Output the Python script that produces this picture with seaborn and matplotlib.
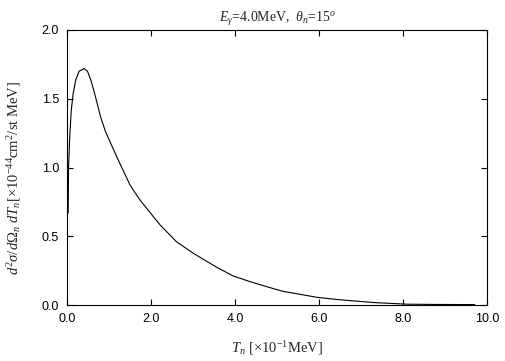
import matplotlib
matplotlib.use("Agg")
import matplotlib.pyplot as plt
import seaborn as sns
import pandas as pd

# Data
t_n = [0.0, 0.02, 0.03, 0.057, 0.095, 0.14, 0.20, 0.28, 0.40, 0.48, 0.56, 0.64,
       0.71, 0.79, 0.91, 1.02, 1.10, 1.25, 1.49, 1.57, 1.73, 2.05, 2.21, 2.52,
       2.60, 3.00, 3.40, 3.56, 3.95, 4.35, 4.75, 5.14, 5.54, 5.94, 6.49, 6.89,
       7.29, 7.68, 8.08, 8.80, 9.70]
cross = [0.67, 0.67, 1.006, 1.224, 1.418, 1.54, 1.636, 1.70, 1.72, 1.70, 1.636, 1.55,
         1.467, 1.37, 1.26, 1.185, 1.13, 1.03, 0.875, 0.836, 0.764, 0.642, 0.582, 0.485,
         0.46, 0.376, 0.303, 0.274, 0.211, 0.17, 0.133, 0.099, 0.078, 0.056, 0.038, 0.028,
         0.018, 0.012, 0.006, 0.004, 0.003]
x_ticks = [0.0, 2.0, 4.0, 6.0, 8.0, 10.0]
y_ticks = [0.0, 0.5, 1.0, 1.5, 2.0]

sns.set_theme(style="ticks")
plt.rcParams['font.family'] = ['Liberation Sans', 'DejaVu Sans']
plt.rcParams['mathtext.fontset'] = 'custom'
plt.rcParams['mathtext.rm'] = 'Liberation Serif'
plt.rcParams['mathtext.it'] = 'Liberation Serif:italic'
plt.rcParams['mathtext.bf'] = 'Liberation Serif:bold'

df = pd.DataFrame({"T": t_n, "S": cross})

fig = plt.figure(figsize=(5.05, 3.61), dpi=100)
ax = fig.add_axes([0.1333, 0.1551, 0.8317, 0.7618])
sns.lineplot(data=df, x="T", y="S", ax=ax, color="black", linewidth=0.8, sort=False)

ax.set_xlim(0, 10)
ax.set_ylim(0, 2)
ax.set_xticks(x_ticks)
ax.set_yticks(y_ticks)
ax.set_xticklabels([f"{v:.1f}" for v in x_ticks])
ax.set_yticklabels([f"{v:.1f}" for v in y_ticks])
ax.tick_params(direction="in", length=4, width=0.8, top=True, right=True,
               labelsize=9, colors="black", pad=6)
for s in ax.spines.values():
    s.set_visible(True)
    s.set_linewidth(0.8)
    s.set_color("black")

serif = ['Liberation Serif', 'DejaVu Serif']
ax.set_title(r"$E_{\gamma}$=4.0MeV,  $\theta_n$=15$^o$", fontsize=10,
             family=serif, pad=6)
ax.set_xlabel(r"$T_n$ [$\times$10$^{-1}$MeV]", fontsize=10.5, family=serif, labelpad=10)
ax.set_ylabel(r"$d^2\sigma/d\Omega_n\ dT_n$[$\times$10$^{-44}$cm$^2$/st MeV]",
              fontsize=10.5, family=serif)
ax.yaxis.set_label_coords(-0.106, 0.462)

fig.savefig("out.png", dpi=100)
